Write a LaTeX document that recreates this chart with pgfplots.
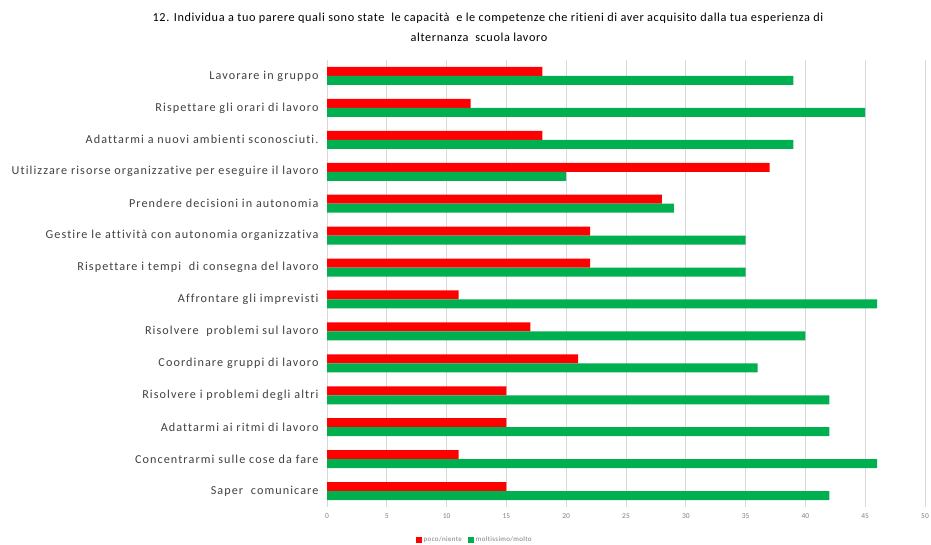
\documentclass[border=0pt]{standalone}
\usepackage{pgfplots}
\pgfplotsset{compat=1.18}
\usepackage{fontspec}
\setmainfont{Carlito}[Ligatures=CommonOff]
\newfontfamily\spaced{Carlito}[LetterSpace=9,Ligatures=CommonOff]
\newfontfamily\tspaced{Carlito}[LetterSpace=5,Ligatures=CommonOff]
\definecolor{redbar}{HTML}{FF0000}
\definecolor{greenbar}{HTML}{00B050}
\definecolor{labgray}{HTML}{404040}
\definecolor{tickgray}{HTML}{7F7F7F}
\definecolor{gridgray}{HTML}{D9D9D9}
\begin{document}
\begin{tikzpicture}
\path[use as bounding box] (0bp,0bp) rectangle (931bp,545bp);
\node[font=\tspaced\fontsize{12.3}{13}\selectfont, text=black] at (488bp,527bp) {12. Individua a tuo parere quali sono state \ le capacità \ e le competenze che ritieni di aver acquisito dalla tua esperienza di};
\node[font=\tspaced\fontsize{12.3}{13}\selectfont, text=black] at (479bp,508bp) {alternanza \ scuola lavoro};
\begin{axis}[
  at={(327bp,38bp)}, anchor=south west,
  width=598bp, height=447bp, scale only axis,
  xbar=0pt, bar width=9bp,
  xmin=0, xmax=50, xtick={0,5,...,50},
  ymin=-0.5, ymax=13.5, y dir=reverse,
  ytick={0,...,13},
  yticklabels={{Lavorare in gruppo},{Rispettare gli orari di lavoro},{Adattarmi a nuovi ambienti sconosciuti.},{Utilizzare risorse organizzative per eseguire il lavoro},{Prendere decisioni in autonomia},{Gestire le attività con autonomia organizzativa},{Rispettare i tempi \ di consegna del lavoro},{Affrontare gli imprevisti},{Risolvere \ problemi sul lavoro},{Coordinare gruppi di lavoro},{Risolvere i problemi degli altri},{Adattarmi ai ritmi di lavoro},{Concentrarmi sulle cose da fare},{Saper \ comunicare}},
  yticklabel style={font=\spaced\fontsize{12.2}{13}\selectfont, text=labgray, xshift=-5bp},
  xticklabel style={font=\fontsize{7.5}{8}\selectfont, text=tickgray, yshift=-3bp},
  /pgf/number format/assume math mode=true,
  major tick length=0pt,
  axis line style={draw=none},
  xmajorgrids, major grid style={gridgray, line width=0.8pt},
  legend columns=2,
  legend style={at={(0.247,-0.074)}, anchor=center, draw=none, font=\tspaced\fontsize{7}{8}\selectfont, text=tickgray, /tikz/every even column/.append style={column sep=4bp}},
  legend image code/.code={\fill[#1] (0bp,-3bp) rectangle (6bp,3bp);},
]
\addplot[fill=redbar, draw=none, bar shift=4.5bp] coordinates {(18,0) (12,1) (18,2) (37,3) (28,4) (22,5) (22,6) (11,7) (17,8) (21,9) (15,10) (15,11) (11,12) (15,13)};
\addplot[fill=greenbar, draw=none, bar shift=-4.5bp] coordinates {(39,0) (45,1) (39,2) (20,3) (29,4) (35,5) (35,6) (46,7) (40,8) (36,9) (42,10) (42,11) (46,12) (42,13)};
\legend{poco/niente, moltissimo/molto}
\end{axis}
\end{tikzpicture}
\end{document}
